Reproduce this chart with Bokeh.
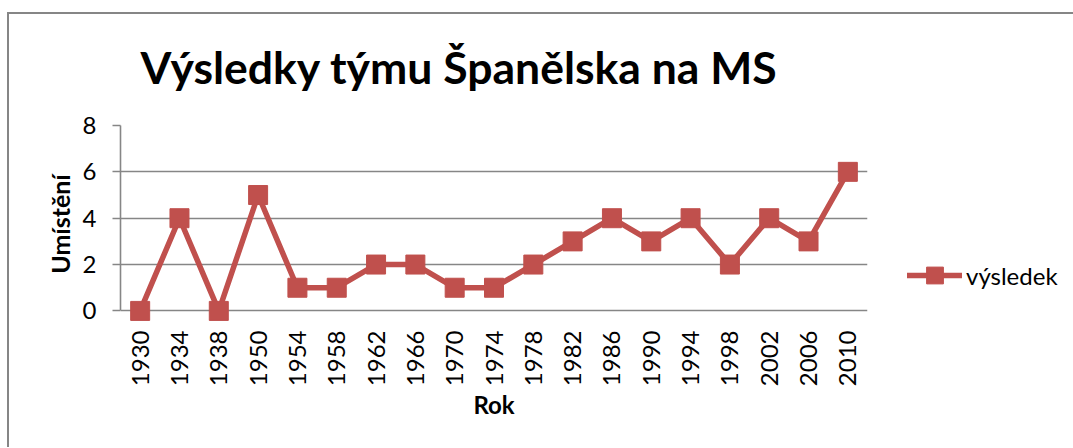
from bokeh.plotting import figure
from bokeh.models import FactorRange, Range1d, Legend, LegendItem, FixedTicker
from bokeh.embed import file_html
from bokeh.resources import INLINE
import math

years = ["1930", "1934", "1938", "1950", "1954", "1958", "1962", "1966", "1970", "1974",
         "1978", "1982", "1986", "1990", "1994", "1998", "2002", "2006", "2010"]
results = [0, 4, 0, 5, 1, 1, 2, 2, 1, 1, 2, 3, 4, 3, 4, 2, 4, 3, 6]
y_ticks = [0, 2, 4, 6, 8]
series_name = "výsledek"
title_text = "Výsledky týmu Španělska na MS"
x_title = "Rok"
y_title = "Umístění"

RED = "#C0504D"
GRID = "#868686"
FONT = "Lato"

p = figure(
    x_range=FactorRange(*years, range_padding=0),
    y_range=Range1d(-0.5, 8),
    frame_width=747, frame_height=197,
    output_backend="svg", toolbar_location=None,
    min_border_left=113, min_border_top=119,
    min_border_right=204, min_border_bottom=125,
)
p.styles = {
    "margin-top": "5px",
    "margin-left": "7px",
    "background": "linear-gradient(#868686, #868686) 0px 7px / 100% 2px no-repeat, "
                  "linear-gradient(#868686, #868686) 0px 7px / 2px 100% no-repeat, white",
}
p.outline_line_color = None
p.background_fill_color = "white"
p.border_fill_alpha = 0

p.title.text = title_text
p.title.text_font = FONT
p.title.text_font_size = "44.5px"
p.title.text_font_style = "bold"
p.title.text_color = "black"
p.title.align = "left"
p.title.offset = 20
p.title.standoff = 65

p.xgrid.grid_line_color = None
p.ygrid.grid_line_color = GRID
p.ygrid.grid_line_width = 1.6
p.ygrid.ticker = FixedTicker(ticks=y_ticks)

p.yaxis.ticker = FixedTicker(ticks=y_ticks)
p.yaxis.bounds = (0, 8)
p.yaxis.axis_line_color = GRID
p.yaxis.axis_line_width = 1.6
p.yaxis.major_tick_line_color = GRID
p.yaxis.major_tick_line_width = 1.6
p.yaxis.major_tick_out = 8
p.yaxis.major_tick_in = 0
p.yaxis.minor_tick_line_color = None
p.yaxis.major_label_text_font = FONT
p.yaxis.major_label_text_font_size = "24px"
p.yaxis.major_label_text_color = "black"
p.yaxis.major_label_standoff = 16
p.yaxis.axis_label = y_title
p.yaxis.axis_label_text_font = FONT
p.yaxis.axis_label_text_font_size = "25px"
p.yaxis.axis_label_text_font_style = "bold"
p.yaxis.axis_label_text_color = "black"
p.yaxis.axis_label_standoff = 5

p.xaxis.axis_line_color = None
p.xaxis.major_tick_line_color = None
p.xaxis.major_tick_out = 0
p.xaxis.major_tick_in = 0
p.xaxis.major_label_orientation = math.pi / 2
p.xaxis.major_label_text_font = FONT
p.xaxis.major_label_text_font_size = "24px"
p.xaxis.major_label_text_color = "black"
p.xaxis.major_label_standoff = 8
p.xaxis.axis_label = x_title
p.xaxis.axis_label_text_font = FONT
p.xaxis.axis_label_text_font_size = "24px"
p.xaxis.axis_label_text_font_style = "bold"
p.xaxis.axis_label_text_color = "black"
p.xaxis.axis_label_standoff = 1

ln = p.line(x=years, y=results, line_color=RED, line_width=5.5, line_join="round", line_cap="round")
sc = p.scatter(x=years, y=results, marker="square", size=19, fill_color=RED, line_color=RED)

legend = Legend(items=[LegendItem(label=series_name, renderers=[ln, sc])],
                location=(40, 26), orientation="vertical")
legend.border_line_color = None
legend.background_fill_alpha = 0
legend.padding = 0
legend.margin = 0
legend.glyph_width = 55
legend.glyph_height = 42
legend.label_standoff = 4
legend.label_text_font = FONT
legend.label_text_font_size = "24px"
legend.label_text_color = "black"
p.add_layout(legend, "right")

open("out.html", "w").write(file_html(p, INLINE))
